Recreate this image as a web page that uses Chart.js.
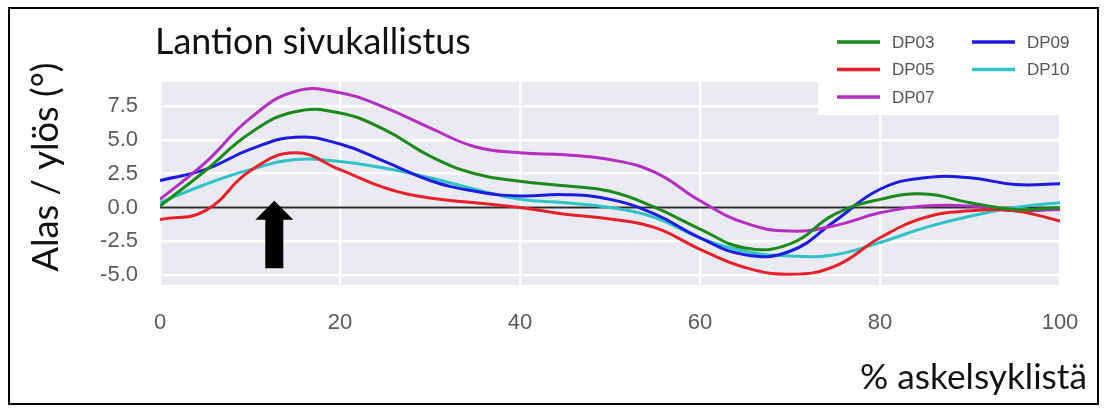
<!DOCTYPE html>
<html lang="fi">
<head>
<meta charset="UTF-8">
<title>Lantion sivukallistus</title>
<script src="https://cdn.jsdelivr.net/npm/chart.js"></script>
<style>
    html, body { margin: 0; padding: 0; background: #fff; }
    #wrap { width: 1108px; height: 412px; }
</style>
</head>
<body>
<div id="wrap"><canvas id="pelvis"></canvas></div>
<script>
// % of gait cycle
const pct = [0, 5, 10, 15, 20, 25, 30, 35, 40, 45, 50, 55, 60, 65, 70, 75, 80, 85, 90, 95, 100];

// pelvic obliquity, degrees
const dp03 = [0.1, 2.7, 5.5, 7.1, 7.0, 5.75, 3.8, 2.5, 1.95, 1.6, 1.2, 0.0, -1.6, -3.0, -2.7, -0.5, 0.6, 1.0, 0.35, -0.15, 0.0];
const dp05 = [-0.9, -0.25, 2.7, 4.05, 2.8, 1.45, 0.7, 0.35, 0.0, -0.5, -0.85, -1.5, -3.1, -4.45, -4.95, -4.35, -2.25, -0.75, -0.25, -0.25, -1.0];
const dp07 = [0.6, 3.3, 6.6, 8.6, 8.5, 7.4, 5.9, 4.5, 4.05, 3.9, 3.55, 2.6, 0.5, -1.15, -1.75, -1.35, -0.4, 0.1, 0.1, -0.25, -0.15];
const dp09 = [2.0, 2.8, 4.3, 5.2, 4.7, 3.4, 2.0, 1.2, 0.85, 0.95, 0.6, -0.5, -2.25, -3.5, -3.25, -1.0, 1.35, 2.2, 2.2, 1.7, 1.75];
const dp10 = [0.35, 1.7, 2.8, 3.55, 3.4, 2.9, 2.2, 1.35, 0.6, 0.35, 0.0, -0.75, -2.25, -3.25, -3.6, -3.5, -2.6, -1.5, -0.65, 0.0, 0.35];

const seriesNames = ['DP03', 'DP05', 'DP07', 'DP09', 'DP10'];
const seriesData = [dp03, dp05, dp07, dp09, dp10];
const seriesColors = ['#1a8a1a', '#e8202a', '#b42ec4', '#1c1ce0', '#30c2c6'];

const xTicks = [0, 20, 40, 60, 80, 100];
const yTicks = [-5, -2.5, 0, 2.5, 5, 7.5];

const titleText = 'Lantion sivukallistus';
const yLabel = 'Alas / ylös (°)';
const xLabel = '% askelsyklistä';

// the arrow marks a point of the cycle, in data units
const arrowAt = { x: 12.7, tip: 0.5, base: -4.5 };

const labelFont = 'Lato, "Open Sans", sans-serif';

// font size that makes text fill a given width
function fitFont(ctx, text, family, weight, width) {
    ctx.font = weight + ' 100px ' + family;
    return 100 * width / ctx.measureText(text).width;
}

const decorPlugin = {
    id: 'decor',
    beforeDraw(chart) {
        const { ctx, chartArea: a } = chart;
        ctx.save();
        ctx.fillStyle = '#fff';
        ctx.fillRect(0, 0, chart.width, chart.height);
        ctx.fillStyle = '#eaeaf2';
        ctx.fillRect(a.left, a.top, a.right - a.left, a.bottom - a.top);
        ctx.restore();
    },
    beforeDatasetsDraw(chart) {
        const { ctx, chartArea: a, scales } = chart;
        const y0 = scales.y.getPixelForValue(0);
        ctx.save();
        ctx.strokeStyle = '#2a2a2a';
        ctx.lineWidth = 2;
        ctx.beginPath();
        ctx.moveTo(a.left, y0);
        ctx.lineTo(a.right, y0);
        ctx.stroke();
        ctx.restore();
    },
    afterDatasetsDraw(chart) {
        const { ctx, chartArea: a, scales } = chart;
        ctx.save();

        // arrow
        const ax = scales.x.getPixelForValue(arrowAt.x);
        const tip = scales.y.getPixelForValue(arrowAt.tip);
        const base = scales.y.getPixelForValue(arrowAt.base);
        const headH = 19, headW = 19, shaftW = 9;
        ctx.fillStyle = '#000';
        ctx.beginPath();
        ctx.moveTo(ax, tip);
        ctx.lineTo(ax + headW, tip + headH);
        ctx.lineTo(ax + shaftW, tip + headH);
        ctx.lineTo(ax + shaftW, base);
        ctx.lineTo(ax - shaftW, base);
        ctx.lineTo(ax - shaftW, tip + headH);
        ctx.lineTo(ax - headW, tip + headH);
        ctx.closePath();
        ctx.fill();

        // legend box
        ctx.fillStyle = '#fff';
        ctx.fillRect(818, 20, 272, 95);
        ctx.font = '17px "Liberation Sans", Arial, sans-serif';
        ctx.textBaseline = 'middle';
        ctx.textAlign = 'left';
        seriesNames.forEach((name, i) => {
            const col = Math.floor(i / 3), row = i % 3;
            const lx = 837 + col * 135;
            const ly = 42 + row * 27.5;
            ctx.strokeStyle = seriesColors[i];
            ctx.lineWidth = 3.5;
            ctx.beginPath();
            ctx.moveTo(lx, ly);
            ctx.lineTo(lx + 43, ly);
            ctx.stroke();
            ctx.fillStyle = '#555';
            ctx.fillText(name, lx + 55, ly + 1);
        });

        // title
        ctx.fillStyle = '#111';
        ctx.textBaseline = 'alphabetic';
        let size = fitFont(ctx, titleText, labelFont, '400', 316);
        ctx.font = size + 'px ' + labelFont;
        ctx.fillText(titleText, 155, 54);

        // x axis label
        size = fitFont(ctx, xLabel, labelFont, '400', 227);
        ctx.font = size + 'px ' + labelFont;
        ctx.textAlign = 'right';
        ctx.fillText(xLabel, 1087, 389);

        // y axis label
        size = fitFont(ctx, yLabel, labelFont, '400', 209);
        ctx.font = size + 'px ' + labelFont;
        ctx.textAlign = 'center';
        ctx.translate(58, 167);
        ctx.rotate(-Math.PI / 2);
        ctx.fillText(yLabel, 0, 0);
        ctx.setTransform(1, 0, 0, 1, 0, 0);

        // frame
        ctx.strokeStyle = '#000';
        ctx.lineWidth = 2;
        ctx.strokeRect(9, 8, 1089, 396);
        ctx.restore();
    }
};

const ctx = document.getElementById('pelvis').getContext('2d');
new Chart(ctx, {
    type: 'line',
    data: {
        datasets: seriesNames.map((name, i) => ({
            label: name,
            data: pct.map((x, j) => ({ x: x, y: seriesData[i][j] })),
            borderColor: seriesColors[i],
            borderWidth: 3,
            pointRadius: 0,
            tension: 0.45,
            fill: false
        }))
    },
    options: {
        responsive: true,
        maintainAspectRatio: false,
        animation: false,
        layout: { padding: { left: 0, right: 48, top: 82, bottom: 0 } },
        plugins: {
            legend: { display: false },
            tooltip: { enabled: false }
        },
        scales: {
            x: {
                type: 'linear',
                min: 0,
                max: 100,
                afterBuildTicks: s => { s.ticks = xTicks.map(v => ({ value: v })); },
                afterFit: s => { s.height = 127; },
                grid: { color: '#fff', lineWidth: 2.5, drawTicks: false },
                border: { display: false },
                ticks: {
                    padding: 25,
                    color: '#5a5a5a',
                    font: { family: '"Liberation Sans", Arial, sans-serif', size: 22 }
                }
            },
            y: {
                min: -5.75,
                max: 9.3,
                afterBuildTicks: s => { s.ticks = yTicks.map(v => ({ value: v })); },
                afterFit: s => { s.width = 160; },
                grid: { color: '#fff', lineWidth: 2.5, drawTicks: false },
                border: { display: false },
                ticks: {
                    padding: 22,
                    color: '#5a5a5a',
                    font: { family: '"Liberation Sans", Arial, sans-serif', size: 22 },
                    callback: v => v.toFixed(1)
                }
            }
        }
    },
    plugins: [decorPlugin]
});
</script>
</body>
</html>
